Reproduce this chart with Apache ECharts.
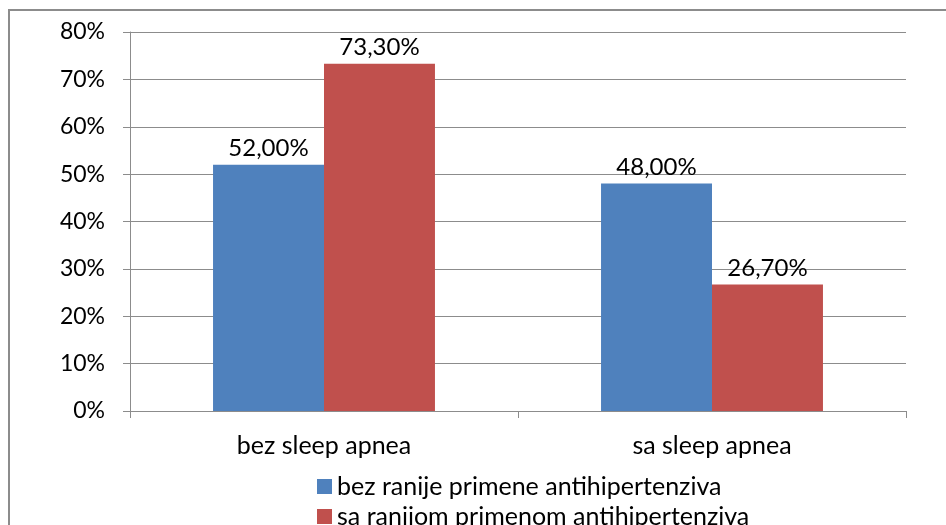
<!DOCTYPE html>
<html><head><meta charset="utf-8">
<script src="https://cdn.jsdelivr.net/npm/echarts@6/dist/echarts.min.js"></script>
<style>html,body{margin:0;padding:0;background:#fff}#c{width:946px;height:525px}</style>
</head><body><div id="c"></div>
<script>
const categories = ["bez sleep apnea", "sa sleep apnea"];
const seriesNames = ["bez ranije primene antihipertenziva", "sa ranijom primenom antihipertenziva"];
const seriesBez = [52.0, 48.0];
const seriesSa = [73.3, 26.7];
const yTicks = [0, 10, 20, 30, 40, 50, 60, 70, 80];

const FONT = "Lato";
const chart = echarts.init(document.getElementById('c'), null, {renderer: 'canvas'});
const fmt = v => v.toFixed(2).replace('.', ',') + '%';
const legendBase = {
  orient: 'vertical', left: 312, itemWidth: 15, itemHeight: 15, itemGap: 5,
  icon: 'rect', textStyle: {fontFamily: FONT, fontSize: 25, color: '#000'}
};
chart.setOption({
  animation: false,
  textStyle: {fontFamily: FONT},
  graphic: [{type: 'rect', shape: {x: 9, y: 10, width: 960, height: 540}, style: {fill: 'none', stroke: '#8c8c8c', lineWidth: 2}, z: -1}],
  grid: {left: 130, right: 40, top: 32, bottom: 114},
  legend: [
    Object.assign({}, legendBase, {top: 469, data: [seriesNames[0]]}),
    Object.assign({}, legendBase, {top: 499, data: [seriesNames[1]]})
  ],
  xAxis: {
    type: 'category', data: categories,
    axisLine: {lineStyle: {color: '#8c8c8c', width: 1}},
    axisTick: {show: true, length: 7, lineStyle: {color: '#8c8c8c'}},
    axisLabel: {fontSize: 25, color: '#000', margin: 22, fontFamily: FONT}
  },
  yAxis: {
    type: 'value', min: yTicks[0], max: yTicks[yTicks.length - 1], interval: 10,
    axisLine: {show: true, lineStyle: {color: '#8c8c8c', width: 1}},
    axisTick: {show: true, length: 7, inside: false, lineStyle: {color: '#8c8c8c'}},
    axisLabel: {fontSize: 23, color: '#000', margin: 25, formatter: v => v + '%', fontFamily: FONT},
    splitLine: {lineStyle: {color: '#8c8c8c', width: 1}}
  },
  series: [
    {name: seriesNames[0], type: 'bar', data: seriesBez, barGap: '0%', barCategoryGap: '42.8%',
     itemStyle: {color: '#4F81BD'},
     label: {show: true, position: 'top', distance: 4, fontSize: 24, color: '#000', formatter: p => fmt(p.value), fontFamily: FONT}},
    {name: seriesNames[1], type: 'bar', data: seriesSa, barGap: '0%', barCategoryGap: '42.8%',
     itemStyle: {color: '#C0504D'},
     label: {show: true, position: 'top', distance: 4, fontSize: 24, color: '#000', formatter: p => fmt(p.value), fontFamily: FONT}}
  ]
});
</script></body></html>
